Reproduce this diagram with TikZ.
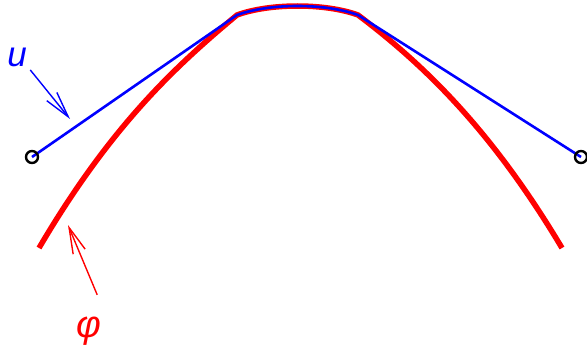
\documentclass[tikz,border=0pt]{standalone}
\usepackage{fontspec}
\setsansfont{Liberation Sans}
\usepackage{tikz}
\usetikzlibrary{arrows.meta}
\tikzset{
  curva/.style={red, line width=5.5pt},
  poligono/.style={blue, line width=2.6pt},
  extremo/.style={circle, draw=black, line width=2.4pt, minimum size=12pt, inner sep=0pt},
  flecha/.style={line width=1.4pt, -{Straight Barb[length=26pt,width=13pt]}}
}
\begin{document}
\begin{tikzpicture}[x=1pt, y=-1pt]
    \useasboundingbox (0,0) rectangle (587,353);

    % Vertices de la poligonal (quiebres sobre la curva)
    \coordinate (pizq) at (32,157);
    \coordinate (pder) at (581,157);
    \coordinate (qizq) at (237,15);
    \coordinate (qder) at (358,15);

    % Curva phi: rama izquierda, arco superior, rama derecha
    \draw [curva] (39,248) .. controls (109,129) and (172,69) .. (qizq)
        .. controls (270,3) and (325,3) .. (qder)
        .. controls (423,64) and (491,129) .. (562,248);

    % Poligonal u: recta, arco sobre la curva, recta
    \draw [poligono] (pizq) -- (qizq) .. controls (270,3) and (325,3) .. (qder) -- (pder);

    % Extremos
    \node (eizq) [extremo] at (pizq) {};
    \node (eder) [extremo] at (pder) {};

    % Etiquetas
    \node (ulab) [text=blue, font=\fontsize{35}{40}\selectfont\sffamily\itshape] at (17,57) {u};
    \node (flab) [text=red, font=\fontsize{38}{42}\selectfont\sffamily\itshape] at (89,331) {φ};

    % Flechas de las etiquetas
    \coordinate (upunta) at (70,119);
    \coordinate (fpunta) at (68,225);
    \draw [flecha, blue] (ulab.south east) -- (upunta);
    \draw [flecha, red, shorten <=20pt] (flab.north east) -- (fpunta);
\end{tikzpicture}
\end{document}
